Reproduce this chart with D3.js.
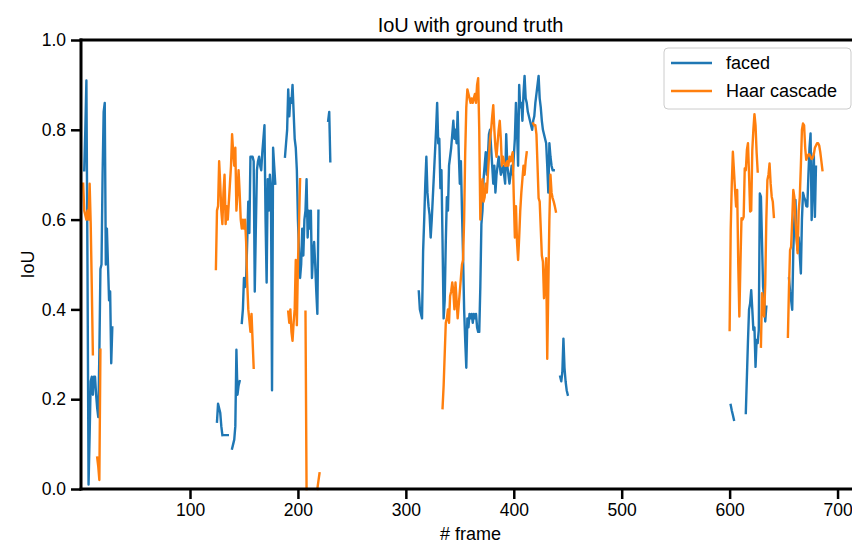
<!DOCTYPE html>
<html>
<head>
<meta charset="utf-8">
<script src="https://cdn.jsdelivr.net/npm/d3@7/dist/d3.min.js"></script>
<style>
  body { margin: 0; background: #fff; }
  svg { display: block; font-family: "Liberation Sans", Arial, sans-serif; }
</style>
</head>
<body>
<div class="iou-chart"></div>
<script>
// tick labels
const xTicks = [100, 200, 300, 400, 500, 600, 700];
const yTicks = [0.0, 0.2, 0.4, 0.6, 0.8, 1.0];
const seriesNames = ["faced", "Haar cascade"];

// faced: each run is a stretch of frames with a detection, starting at facedStarts[i]
const facedStarts = [2, 125, 132, 139, 148, 188, 228, 312, 443, 601, 615, 655];
const facedRuns = [
    [0.71, 0.80, 0.91, 0.50, 0.01, 0.12, 0.24, 0.25, 0.21, 0.25, 0.25, 0.21, 0.18, 0.16, 0.30, 0.49, 0.50, 0.70, 0.84, 0.86, 0.50, 0.58, 0.50, 0.42, 0.44, 0.28, 0.36],
    [0.15, 0.19, 0.18, 0.17, 0.14, 0.12],
    [0.12, 0.12, 0.12, 0.12],
    [0.09, 0.10, 0.11, 0.14, 0.31, 0.21, 0.23, 0.24],
    [0.37, 0.40, 0.47, 0.45, 0.47, 0.55, 0.64, 0.57, 0.74, 0.74, 0.74, 0.73, 0.44, 0.58, 0.71, 0.73, 0.74, 0.72, 0.71, 0.75, 0.78, 0.81, 0.60, 0.46, 0.69, 0.62, 0.70, 0.67, 0.22, 0.76, 0.72, 0.68],
    [0.74, 0.77, 0.80, 0.89, 0.83, 0.87, 0.86, 0.90, 0.84, 0.78, 0.76, 0.71, 0.60, 0.53, 0.47, 0.50, 0.58, 0.52, 0.60, 0.62, 0.69, 0.56, 0.62, 0.58, 0.62, 0.47, 0.52, 0.55, 0.50, 0.44, 0.39, 0.62],
    [0.82, 0.84, 0.73],
    [0.44, 0.40, 0.39, 0.38, 0.53, 0.60, 0.68, 0.74, 0.66, 0.63,
     0.61, 0.56, 0.60, 0.65, 0.70, 0.75, 0.80, 0.86, 0.77, 0.78,
     0.67, 0.71, 0.55, 0.38, 0.42, 0.55, 0.65, 0.62, 0.72, 0.74,
     0.76, 0.79, 0.82, 0.78, 0.80, 0.77, 0.84, 0.75, 0.68, 0.73,
     0.62, 0.52, 0.40, 0.33, 0.27, 0.38, 0.36, 0.39, 0.38, 0.39,
     0.37, 0.39, 0.38, 0.39, 0.36, 0.35, 0.35, 0.45, 0.59, 0.62,
     0.69, 0.72, 0.75, 0.70, 0.74, 0.79, 0.80, 0.76, 0.72, 0.68,
     0.72, 0.66, 0.70, 0.72, 0.74, 0.72, 0.70, 0.71, 0.72, 0.70,
     0.68, 0.79, 0.72, 0.70, 0.68, 0.70, 0.72, 0.70, 0.74, 0.78,
     0.86, 0.80, 0.72, 0.90, 0.85, 0.86, 0.82, 0.88, 0.92, 0.87,
     0.86, 0.84, 0.83, 0.82, 0.81, 0.80, 0.82, 0.83, 0.86, 0.88,
     0.90, 0.92, 0.87, 0.85, 0.82, 0.80, 0.79, 0.78, 0.77, 0.72,
     0.66, 0.77, 0.74, 0.72, 0.71, 0.71],
    [0.25, 0.24, 0.26, 0.335, 0.27, 0.24, 0.22, 0.21],
    [0.187, 0.175, 0.165, 0.154],
    [0.169, 0.25, 0.33, 0.40, 0.413, 0.443, 0.40, 0.354, 0.36, 0.272, 0.332, 0.325, 0.354, 0.658, 0.651, 0.55, 0.45, 0.425, 0.373, 0.406],
    [0.469, 0.44, 0.42, 0.399, 0.532, 0.60, 0.644, 0.56, 0.532, 0.56, 0.52, 0.48, 0.60, 0.66, 0.65, 0.644, 0.63, 0.629, 0.70, 0.76, 0.792, 0.599, 0.68, 0.748, 0.606, 0.718]
];

// Haar cascade
const haarStarts = [1, 14, 124, 191, 207, 218, 334, 418, 600, 629, 654];
const haarRuns = [
    [0.68, 0.62, 0.61, 0.60, 0.62, 0.60, 0.68, 0.59, 0.45, 0.30],
    [0.07, 0.05, 0.02, 0.31],
    [0.49, 0.62, 0.63, 0.73, 0.68, 0.62, 0.59, 0.66, 0.70, 0.59, 0.63, 0.60, 0.64, 0.68, 0.72, 0.79, 0.75, 0.72, 0.76, 0.62, 0.66, 0.71, 0.66, 0.60, 0.58, 0.60, 0.58, 0.60, 0.55, 0.46, 0.40, 0.376, 0.35, 0.39, 0.33, 0.27],
    [0.395, 0.37, 0.40, 0.35, 0.33, 0.37, 0.40, 0.51, 0.365, 0.50, 0.59, 0.69],
    [0.395, 0.0],
    [0.0, 0.018, 0.035],
    [0.18, 0.23, 0.30, 0.37, 0.38, 0.40, 0.37, 0.43, 0.44, 0.46,
     0.44, 0.40, 0.46, 0.42, 0.38, 0.41, 0.44, 0.47, 0.50, 0.51,
     0.60, 0.75, 0.85, 0.89, 0.88, 0.87, 0.86, 0.87, 0.86, 0.87,
     0.88, 0.86, 0.90, 0.915, 0.80, 0.60, 0.66, 0.69, 0.64, 0.65,
     0.68, 0.66, 0.70, 0.74, 0.78, 0.80, 0.83, 0.855, 0.80, 0.76,
     0.74, 0.77, 0.80, 0.82, 0.78, 0.72, 0.74, 0.73, 0.72, 0.72,
     0.73, 0.72, 0.74, 0.73, 0.74, 0.75, 0.65, 0.56, 0.63, 0.55,
     0.51, 0.56, 0.62, 0.66, 0.69, 0.72, 0.70, 0.73, 0.75],
    [0.814, 0.81, 0.81, 0.79, 0.72, 0.648, 0.64, 0.58, 0.52, 0.506, 0.425, 0.47, 0.514, 0.29, 0.45, 0.60, 0.70, 0.66, 0.648, 0.64, 0.63, 0.618],
    [0.354, 0.577, 0.68, 0.751, 0.71, 0.666, 0.629, 0.666, 0.50, 0.384, 0.50, 0.603, 0.60, 0.606, 0.714, 0.71, 0.755, 0.77, 0.70, 0.618, 0.62, 0.755, 0.80, 0.835, 0.81, 0.75, 0.707],
    [0.317, 0.436, 0.40, 0.384, 0.458, 0.60, 0.688, 0.70, 0.725, 0.68, 0.651, 0.64, 0.606],
    [0.339, 0.45, 0.532, 0.54, 0.60, 0.666, 0.65, 0.60, 0.56, 0.525, 0.62, 0.65, 0.72, 0.80, 0.814, 0.81, 0.76, 0.733, 0.74, 0.745, 0.745, 0.74, 0.735, 0.738, 0.745, 0.76, 0.765, 0.77, 0.77, 0.765, 0.75, 0.73, 0.71]
];

// 把每段資料攤平，段與段之間塞一個 null 讓線斷開
function toPoints(starts, runs) {
    const pts = [];
    runs.forEach((run, i) => {
        run.forEach((v, j) => pts.push({ frame: starts[i] + j, iou: v }));
        pts.push({ frame: null, iou: null });
    });
    return pts;
}

const series = [
    { name: seriesNames[0], color: "#1f77b4", points: toPoints(facedStarts, facedRuns) },
    { name: seriesNames[1], color: "#ff7f0e", points: toPoints(haarStarts, haarRuns) }
];

const width = 852;
const height = 542;
const plotLeft = 81;
const plotRight = 860;
const plotTop = 40;
const plotBottom = 489;

const svg = d3.select(".iou-chart")
    .append("svg")
    .attr("width", width)
    .attr("height", height);

const xScale = d3.scaleLinear().domain([-1, 720.8]).range([plotLeft, plotRight]);
const yScale = d3.scaleLinear().domain([0, 1]).range([plotBottom, plotTop]);

// lines
const line = d3.line()
    .defined(d => d.iou !== null)
    .x(d => xScale(d.frame))
    .y(d => yScale(d.iou));

svg.append("g")
    .selectAll("path")
    .data(series)
    .join("path")
    .attr("d", d => line(d.points))
    .attr("fill", "none")
    .attr("stroke", d => d.color)
    .attr("stroke-width", 2.4)
    .attr("stroke-linejoin", "round")
    .attr("stroke-linecap", "square");

// axes
const xAxis = d3.axisBottom(xScale).tickValues(xTicks).tickSize(10).tickPadding(5).tickFormat(d3.format("d"));
const yAxis = d3.axisLeft(yScale).tickValues(yTicks).tickSize(10).tickPadding(5).tickFormat(d3.format(".1f"));

const xAxisGroup = svg.append("g")
    .attr("transform", `translate(0,${plotBottom})`)
    .call(xAxis);
const yAxisGroup = svg.append("g")
    .attr("transform", `translate(${plotLeft},0)`)
    .call(yAxis);

[xAxisGroup, yAxisGroup].forEach(g => {
    g.select(".domain").remove();
    g.selectAll(".tick line").attr("stroke", "#000").attr("stroke-width", 2.5);
    g.selectAll(".tick text")
        .attr("fill", "#000")
        .style("font-size", "17.5px")
        .style("font-family", '"Liberation Sans", Arial, sans-serif');
});

// spines
const spines = svg.append("g")
    .attr("stroke", "#000")
    .attr("stroke-width", 3)
    .attr("stroke-linecap", "square");
spines.append("line").attr("x1", plotLeft).attr("x2", plotRight).attr("y1", plotBottom).attr("y2", plotBottom);
spines.append("line").attr("x1", plotLeft).attr("x2", plotRight).attr("y1", plotTop).attr("y2", plotTop);
spines.append("line").attr("x1", plotLeft).attr("x2", plotLeft).attr("y1", plotTop).attr("y2", plotBottom);
spines.append("line").attr("x1", plotRight).attr("x2", plotRight).attr("y1", plotTop).attr("y2", plotBottom);

// title + labels
svg.append("text")
    .attr("x", (plotLeft + plotRight) / 2)
    .attr("y", 32)
    .attr("text-anchor", "middle")
    .style("font-size", "20px")
    .text("IoU with ground truth");

svg.append("text")
    .attr("x", (plotLeft + plotRight) / 2)
    .attr("y", 540)
    .attr("text-anchor", "middle")
    .style("font-size", "18px")
    .text("# frame");

svg.append("text")
    .attr("transform", `translate(34,${(plotTop + plotBottom) / 2}) rotate(-90)`)
    .attr("text-anchor", "middle")
    .style("font-size", "18px")
    .text("IoU");

// legend
const legend = svg.append("g").attr("transform", "translate(664,48)");
legend.append("rect")
    .attr("width", 187)
    .attr("height", 61)
    .attr("rx", 4)
    .attr("fill", "#fff")
    .attr("fill-opacity", 0.8)
    .attr("stroke", "#cccccc")
    .attr("stroke-width", 1);

const legendItems = legend.selectAll("g.item")
    .data(series)
    .join("g")
    .attr("class", "item")
    .attr("transform", (d, i) => `translate(0,${15 + i * 28})`);

legendItems.append("line")
    .attr("x1", 7).attr("x2", 48)
    .attr("stroke", d => d.color)
    .attr("stroke-width", 2.4);

legendItems.append("text")
    .attr("x", 62)
    .attr("y", 6)
    .style("font-size", "18px")
    .text(d => d.name);
</script>
</body>
</html>
